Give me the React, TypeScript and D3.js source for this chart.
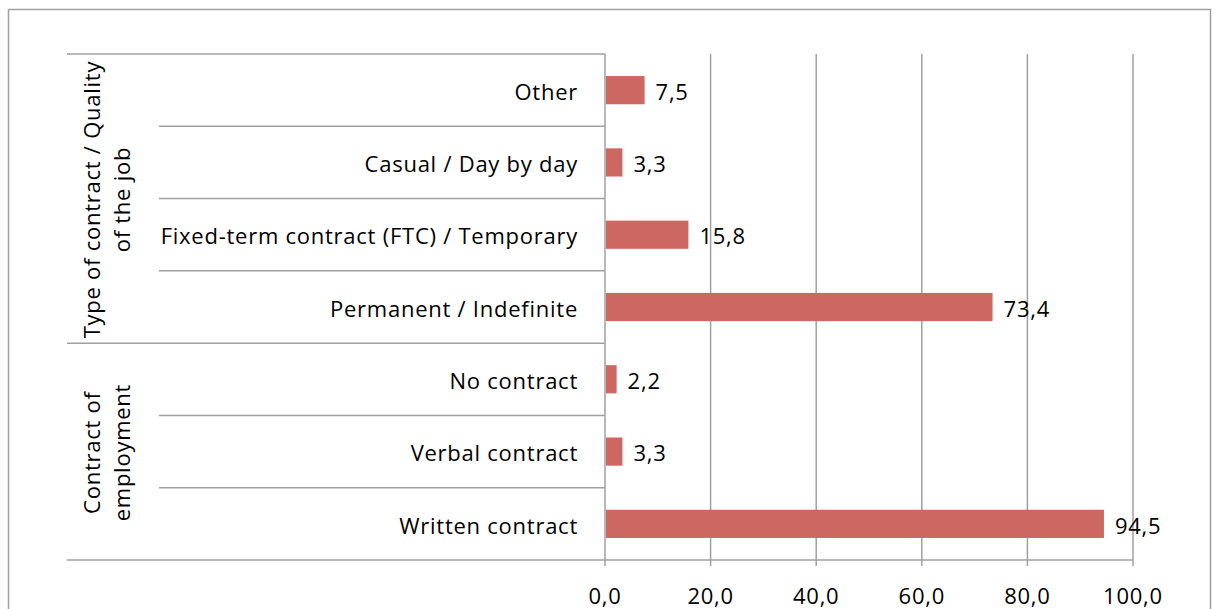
import { useEffect, useRef } from "react";
import * as d3 from "d3";

// categories top -> bottom as drawn
const categories = [
  "Other",
  "Casual / Day by day",
  "Fixed-term contract (FTC) / Temporary",
  "Permanent / Indefinite",
  "No contract",
  "Verbal contract",
  "Written contract",
];
const values = [7.5, 3.3, 15.8, 73.4, 2.2, 3.3, 94.5];
const groups = [
  { lines: ["Type of contract / Quality", "of the job"], from: 0, to: 4 },
  { lines: ["Contract of", "employment"], from: 4, to: 7 },
];
const xTicks = [0, 20, 40, 60, 80, 100];

export default function App() {
  const svgRef = useRef<SVGSVGElement>(null);

  useEffect(() => {
    if (!svgRef.current) return;
    const W = 1217;
    const H = 609;
    const left = 605;
    const right = 1133;
    const top = 54;
    const bottom = 560;
    const gray = "#a0a0a0";
    const font = "'Open Sans', sans-serif";
    const fs = 22;
    const ls = "0.75px";
    const fmt = (v: number) => v.toFixed(1).replace(".", ",");

    const svg = d3.select(svgRef.current);
    svg.selectAll("*").remove();
    svg.attr("width", W).attr("height", H);

    svg
      .append("rect")
      .attr("x", 8.5)
      .attr("y", 9.5)
      .attr("width", 1202)
      .attr("height", 640)
      .attr("fill", "white")
      .attr("stroke", gray)
      .attr("stroke-width", 1.5);

    const x = d3.scaleLinear().domain([0, 100]).range([left, right]);
    const y = d3
      .scaleBand()
      .domain(categories)
      .range([top, bottom])
      .paddingInner(0.61)
      .paddingOuter(0.305);

    const band = (bottom - top) / categories.length;

    // gridlines
    svg
      .append("g")
      .selectAll("line")
      .data(xTicks.slice(1))
      .join("line")
      .attr("x1", (d) => x(d))
      .attr("x2", (d) => x(d))
      .attr("y1", top)
      .attr("y2", bottom + 6)
      .attr("stroke", gray)
      .attr("stroke-width", 1.5);

    // category axis line
    svg
      .append("line")
      .attr("x1", left)
      .attr("x2", left)
      .attr("y1", top)
      .attr("y2", bottom + 6)
      .attr("stroke", gray)
      .attr("stroke-width", 1.5);

    // category dividers
    const boundaries = d3.range(categories.length + 1);
    const groupEdges = new Set<number>();
    groups.forEach((g) => {
      groupEdges.add(g.from);
      groupEdges.add(g.to);
    });
    svg
      .append("g")
      .selectAll("line")
      .data(boundaries)
      .join("line")
      .attr("x1", (i) => (groupEdges.has(i) ? 67 : 159))
      .attr("x2", (i) => (i === categories.length ? right : left))
      .attr("y1", (i) => top + i * band)
      .attr("y2", (i) => top + i * band)
      .attr("stroke", gray)
      .attr("stroke-width", 1.5);

    // bars
    svg
      .append("g")
      .selectAll("rect")
      .data(values)
      .join("rect")
      .attr("x", x(0) + 1)
      .attr("y", (_, i) => y(categories[i]) as number)
      .attr("width", (d) => x(d) - x(0) - 1)
      .attr("height", y.bandwidth())
      .attr("fill", "#cd6761");

    const txt = (sel: any) =>
      sel
        .attr("font-family", font)
        .attr("font-size", fs)
        .attr("letter-spacing", ls)
        .attr("fill", "#000");

    // value labels
    svg
      .append("g")
      .selectAll("text")
      .data(values)
      .join("text")
      .attr("x", (d) => x(d) + 11)
      .attr("y", (_, i) => (y(categories[i]) as number) + y.bandwidth() / 2 + 2)
      .attr("dy", "0.35em")
      .call(txt)
      .text((d) => fmt(d));

    // category labels
    svg
      .append("g")
      .selectAll("text")
      .data(categories)
      .join("text")
      .attr("x", 578)
      .attr("y", (d) => (y(d) as number) + y.bandwidth() / 2 + 2)
      .attr("dy", "0.35em")
      .attr("text-anchor", "end")
      .call(txt)
      .text((d) => d);

    // group labels
    groups.forEach((g) => {
      const cy = top + ((g.from + g.to) / 2) * band + 1;
      g.lines.forEach((line, li) => {
        const cx = 92 + li * 30;
        svg
          .append("text")
          .attr("transform", `translate(${cx},${cy}) rotate(-90)`)
          .attr("text-anchor", "middle")
          .attr("dy", "0.35em")
          .call(txt)
          .text(line);
      });
    });

    // x tick labels
    svg
      .append("g")
      .selectAll("text")
      .data(xTicks)
      .join("text")
      .attr("x", (d) => x(d))
      .attr("y", 596)
      .attr("dy", "0.35em")
      .attr("text-anchor", "middle")
      .call(txt)
      .text((d) => fmt(d));
  }, []);

  return (
    <svg
      ref={svgRef}
      style={{ position: "absolute", left: 0, top: 0, display: "block" }}
    />
  );
}
